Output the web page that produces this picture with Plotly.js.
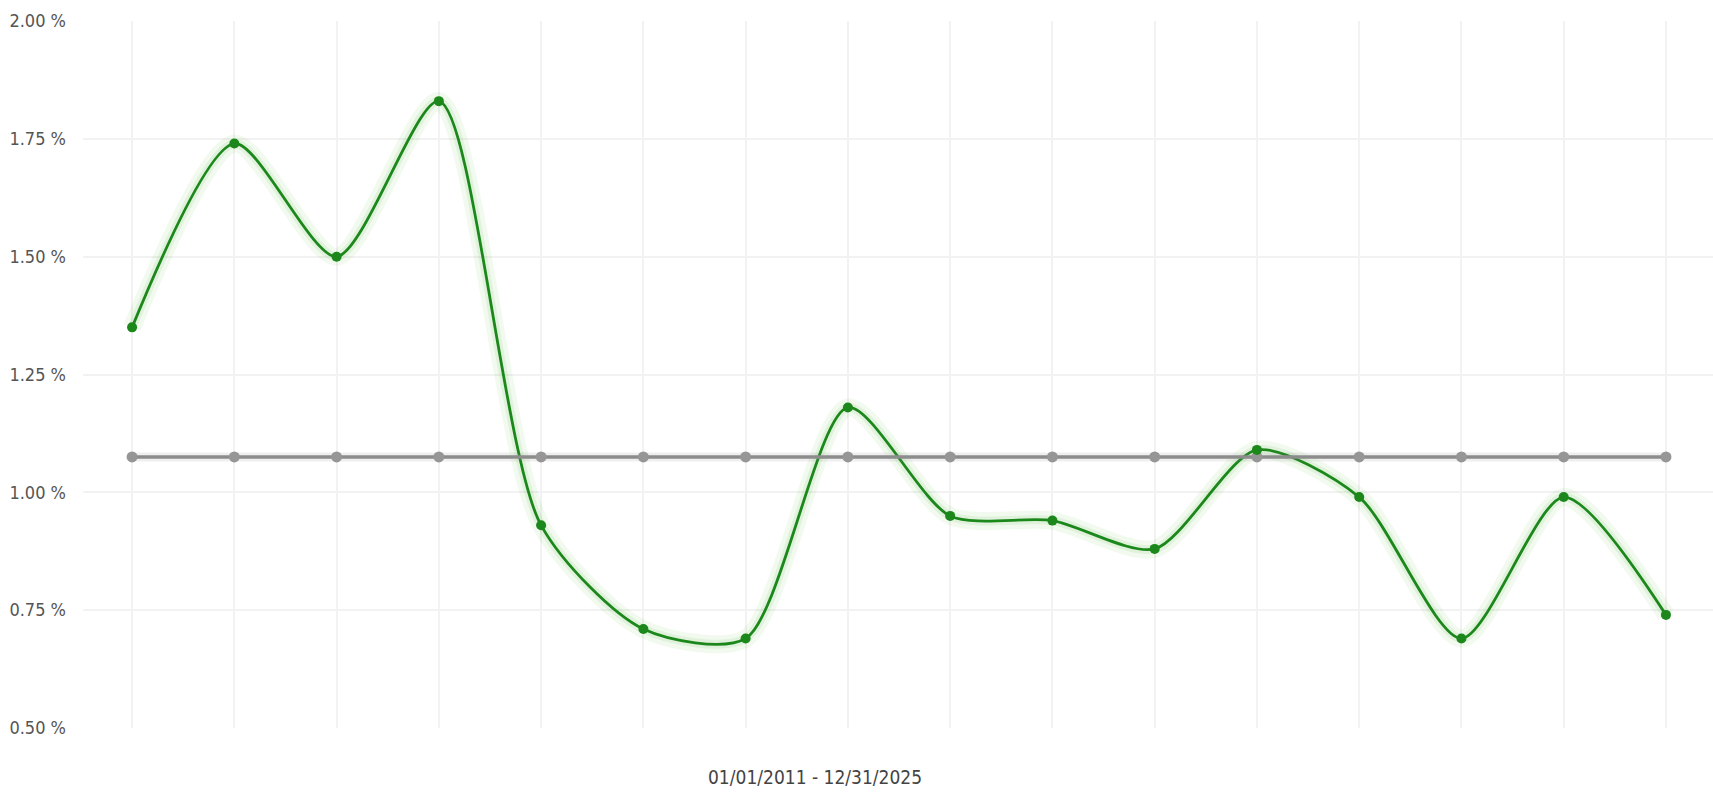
<!DOCTYPE html>
<html>
<head>
<meta charset="utf-8">
<script src="https://cdn.plot.ly/plotly-3.0.1.min.js"></script>
<style>
  html, body { margin: 0; padding: 0; background: #ffffff; }
  #chart { width: 1713px; height: 792px; }
</style>
</head>
<body>
<div id="chart"></div>
<script>
// Periods (one per point, 16 points across 01/01/2011 - 12/31/2025)
const periods = [0, 1, 2, 3, 4, 5, 6, 7, 8, 9, 10, 11, 12, 13, 14, 15];
// Green series values (%)
const seriesValues = [1.35, 1.74, 1.50, 1.83, 0.93, 0.71, 0.69, 1.18, 0.95, 0.94, 0.88, 1.09, 0.99, 0.69, 0.99, 0.74];
// Gray reference (average) line values (%)
const averageValues = [1.075, 1.075, 1.075, 1.075, 1.075, 1.075, 1.075, 1.075, 1.075, 1.075, 1.075, 1.075, 1.075, 1.075, 1.075, 1.075];
// Y tick values
const yTicks = [0.50, 0.75, 1.00, 1.25, 1.50, 1.75, 2.00];
const yTickLabels = ["0.50 %", "0.75 %", "1.00 %", "1.25 %", "1.50 %", "1.75 %", "2.00 %"];
const periodLabel = "01/01/2011 - 12/31/2025";

const FONT = '"DejaVu Sans Condensed", "Liberation Sans Narrow", "Roboto", sans-serif';
const green = 'rgb(28,136,28)';
const gray = 'rgb(140,140,140)';
const SMOOTH = 0.75;

const traces = [
  // green glow
  { x: periods, y: seriesValues, mode: 'lines', line: { color: 'rgba(70,180,40,0.07)', width: 18, shape: 'spline', smoothing: SMOOTH }, hoverinfo: 'skip', showlegend: false },
  { x: periods, y: seriesValues, mode: 'lines', line: { color: 'rgba(70,180,40,0.10)', width: 9, shape: 'spline', smoothing: SMOOTH }, hoverinfo: 'skip', showlegend: false },
  { x: periods, y: seriesValues, mode: 'lines',
    line: { color: green, width: 2.8, shape: 'spline', smoothing: SMOOTH },
    hoverinfo: 'skip', showlegend: false },
  // gray glow + line
  { x: periods, y: averageValues, mode: 'lines', line: { color: 'rgba(120,120,120,0.12)', width: 9 }, hoverinfo: 'skip', showlegend: false },
  { x: periods, y: averageValues, mode: 'lines+markers',
    line: { color: gray, width: 3.5 },
    marker: { color: 'rgb(150,150,150)', size: 11 },
    showlegend: false },
  // green markers on top
  { x: periods, y: seriesValues, mode: 'markers',
    marker: { color: green, size: 10 },
    showlegend: false }
];

const layout = {
  width: 1713, height: 792,
  paper_bgcolor: '#ffffff', plot_bgcolor: '#ffffff',
  margin: { l: 83, r: 0, t: 21, b: 64 },
  showlegend: false,
  font: { family: FONT, color: '#555555' },
  xaxis: {
    range: [-0.48, 15.46],
    tickvals: periods,
    showticklabels: false,
    showgrid: true, gridcolor: '#f2f2f2', gridwidth: 2,
    zeroline: false, showline: false, ticks: ''
  },
  yaxis: {
    range: [0.5, 2.0],
    tickvals: yTicks, ticktext: yTickLabels,
    tickfont: { family: FONT, size: 18, color: '#555555' },
    ticklabelstandoff: 16,
    showgrid: true, gridcolor: '#f2f2f2', gridwidth: 2,
    zeroline: false, showline: false, ticks: ''
  },
  annotations: [{
    text: periodLabel, xref: 'paper', yref: 'paper', x: 0.449, y: 0,
    xanchor: 'center', yanchor: 'middle', yshift: -49, showarrow: false,
    font: { family: FONT, size: 19, color: '#444444' }
  }]
};

Plotly.newPlot('chart', traces, layout, { displayModeBar: false, staticPlot: true });
</script>
</body>
</html>
